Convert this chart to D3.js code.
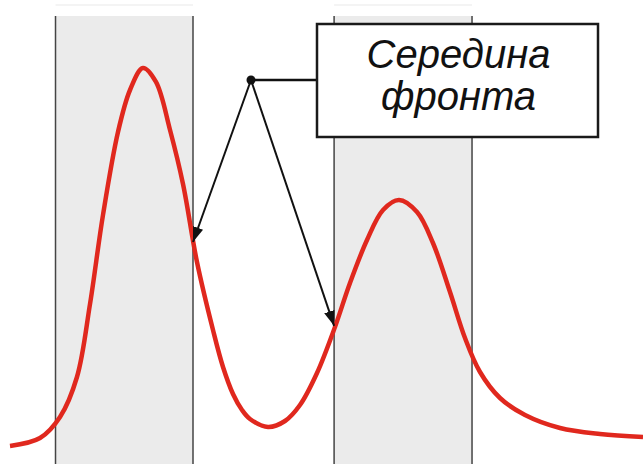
<!DOCTYPE html>
<html>
<head>
<meta charset="utf-8">
<script src="https://cdn.jsdelivr.net/npm/d3@7"></script>
<style>
  html, body { margin: 0; padding: 0; background: #fff; }
  svg { display: block; }
</style>
</head>
<body>
<svg id="chart" width="643" height="464"></svg>
<script>
//  curve samples (time in %, signal in %)
const curve_t = [0, 4.74, 7.9, 10.58, 12.64, 14.69, 17.06, 18.96, 21.01, 23.06, 25.28, 27.33, 29.54,
  32.07, 33.65, 35.23, 36.65, 37.91, 40.76, 43.44, 45.81, 48.5, 51.34, 53.71, 56.4, 58.93, 61.45, 64.3, 66.82,
  69.51, 71.88, 74.25, 77.41, 81.36, 86.89, 93.21, 100];
const curve_a = [1.05, 3.14, 8.64, 19.11, 38.22, 61.52, 83.25, 94.24, 100, 96.34, 83.77, 69.63, 49.21,
  31.41, 21.73, 14.66, 10.47, 8.12, 6.02, 7.59, 11.78, 20.16, 32.2, 43.72, 54.97, 62.83, 65.45, 62.3, 54.19,
  41.36, 29.32, 20.42, 13.61, 9.16, 5.76, 4.19, 3.4];

//  shaded windows (time in %)
const band_start = [7.19, 51.2];
const band_end = [28.91, 72.99];

//  points marked as the middle of a front
const front_t = [28.91, 51.2];
const front_a = [54.45, 32.5];

const label_lines = ["Середина", "фронта"];

function draw_chart() {
  const w = 643, h = 464;
  const svg = d3.select("#chart");
  svg.selectAll('*').remove();

  const x = d3.scaleLinear().domain([0, 100]).range([10, 643]);
  const y = d3.scaleLinear().domain([0, 100]).range([450, 68]);

  const defs = svg.append("defs");
  defs.append("marker")
    .attr("id", "arrow")
    .attr("viewBox", "0 0 14 10")
    .attr("refX", 14)
    .attr("refY", 5)
    .attr("markerUnits", "userSpaceOnUse")
    .attr("markerWidth", 15)
    .attr("markerHeight", 11)
    .attr("orient", "auto")
    .append("path")
    .attr("d", "M0,0L14,5L0,10Z")
    .attr("fill", "#111");

  //  bands
  const bands = band_start.map((s, i) => ({s: s, e: band_end[i]}));
  const g_band = svg.append("g");
  g_band.selectAll("line.top")
    .data(bands)
    .join("line")
    .attr("x1", d => x(d.s))
    .attr("x2", d => x(d.e))
    .attr("y1", 5)
    .attr("y2", 5)
    .attr("stroke", "#f4f4f4")
    .attr("stroke-width", 2);
  g_band.selectAll("rect")
    .data(bands)
    .join("rect")
    .attr("x", d => x(d.s))
    .attr("y", 16)
    .attr("width", d => x(d.e) - x(d.s))
    .attr("height", h - 16)
    .attr("fill", "#ebebeb");
  bands.forEach(d => {
    [d.s, d.e].forEach(v => {
      g_band.append("line")
        .attr("x1", x(v)).attr("x2", x(v))
        .attr("y1", 16).attr("y2", h)
        .attr("stroke", "#444")
        .attr("stroke-width", 1.5);
    });
  });

  //  signal
  const pts = curve_t.map((t, i) => [t, curve_a[i]]);
  const line = d3.line()
    .x(d => x(d[0]))
    .y(d => y(d[1]))
    .curve(d3.curveCatmullRom.alpha(0.5));
  svg.append("path")
    .attr("d", line(pts))
    .attr("fill", "none")
    .attr("stroke", "#e0281e")
    .attr("stroke-width", 4.5)
    .attr("stroke-linecap", "butt");

  //  annotation
  const dot = [251, 80];
  const box = {x: 317, y: 24, w: 281, h: 113};

  svg.append("line")
    .attr("x1", dot[0]).attr("y1", dot[1])
    .attr("x2", box.x).attr("y2", dot[1])
    .attr("stroke", "#111")
    .attr("stroke-width", 2.5);

  front_t.forEach((t, i) => {
    svg.append("line")
      .attr("x1", dot[0]).attr("y1", dot[1])
      .attr("x2", x(t)).attr("y2", y(front_a[i]))
      .attr("stroke", "#111")
      .attr("stroke-width", 2)
      .attr("marker-end", "url(#arrow)");
  });

  svg.append("circle")
    .attr("cx", dot[0]).attr("cy", dot[1])
    .attr("r", 4.5)
    .attr("fill", "#111");

  svg.append("rect")
    .attr("x", box.x).attr("y", box.y)
    .attr("width", box.w).attr("height", box.h)
    .attr("fill", "#fff")
    .attr("stroke", "#1a1a1a")
    .attr("stroke-width", 2.5);

  svg.append("g")
    .selectAll("text")
    .data(label_lines)
    .join("text")
    .attr("x", box.x + box.w / 2 + 1)
    .attr("y", (d, i) => 68 + i * 42)
    .attr("text-anchor", "middle")
    .style("font-family", "'Liberation Sans', Arial, sans-serif")
    .style("font-style", "italic")
    .style("font-size", "40px")
    .attr("fill", "#111")
    .text(d => d);
}

draw_chart();
</script>
</body>
</html>
